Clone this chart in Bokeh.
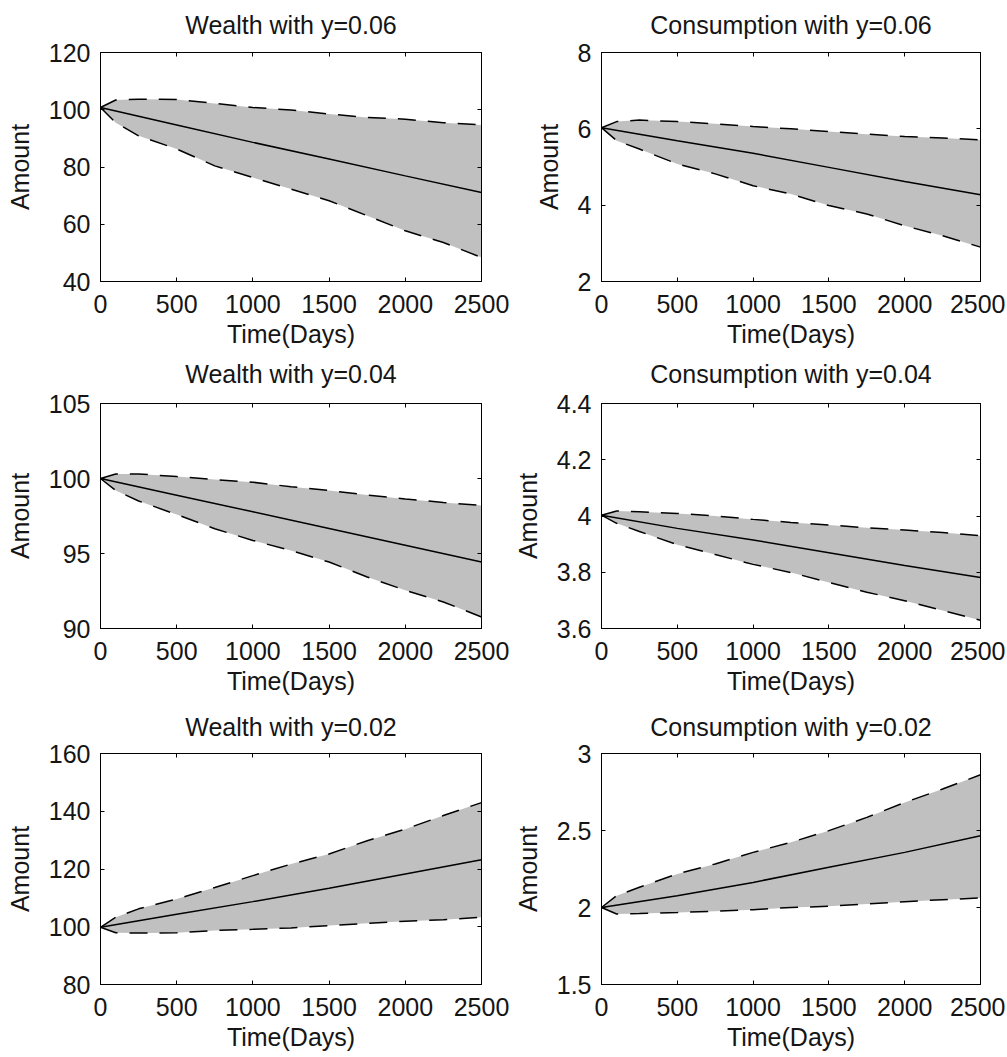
from bokeh.plotting import figure
from bokeh.layouts import column, row
from bokeh.models import Range1d, FixedTicker, LinearAxis
from bokeh.embed import file_html
from bokeh.resources import INLINE

# ---------------- data ----------------
days = [0, 100, 250, 500, 750, 1000, 1250, 1500, 1750, 2000, 2250, 2500]
days_mean = [0, 500, 1000, 1500, 2000, 2500]

x_ticks = [0, 500, 1000, 1500, 2000, 2500]
x_tick_labels = ["0", "500", "1000", "1500", "2000", "2500"]

titles = ["Wealth with y=0.06", "Consumption with y=0.06",
          "Wealth with y=0.04", "Consumption with y=0.04",
          "Wealth with y=0.02", "Consumption with y=0.02"]

w06_upper = [100.8, 103.4, 103.7, 103.6, 102.2, 100.8, 99.9, 98.5, 97.3, 96.7, 95.5, 94.7]
w06_mean = [100.8, 94.7, 88.6, 82.8, 76.9, 71.1]
w06_lower = [100.8, 95.5, 90.9, 86.3, 80.4, 76.3, 72.3, 68.2, 63.0, 57.7, 53.6, 48.4]
w06_ticks = [40, 60, 80, 100, 120]
w06_tick_labels = ["40", "60", "80", "100", "120"]

c06_upper = [6.03, 6.19, 6.23, 6.19, 6.13, 6.06, 6.00, 5.93, 5.86, 5.80, 5.76, 5.71]
c06_mean = [6.03, 5.69, 5.36, 4.99, 4.62, 4.27]
c06_lower = [6.03, 5.69, 5.47, 5.08, 4.82, 4.51, 4.29, 3.99, 3.77, 3.46, 3.20, 2.90]
c06_ticks = [2, 4, 6, 8]
c06_tick_labels = ["2", "4", "6", "8"]

w04_upper = [100.0, 100.3, 100.3, 100.13, 99.93, 99.75, 99.45, 99.2, 98.9, 98.64, 98.4, 98.2]
w04_mean = [100.0, 98.89, 97.78, 96.67, 95.55, 94.43]
w04_lower = [100.0, 99.2, 98.5, 97.6, 96.65, 95.87, 95.2, 94.43, 93.43, 92.55, 91.77, 90.77]
w04_ticks = [90, 95, 100, 105]
w04_tick_labels = ["90", "95", "100", "105"]

c04_upper = [4.003, 4.018, 4.015, 4.009, 4.0, 3.988, 3.977, 3.968, 3.958, 3.95, 3.941, 3.93]
c04_mean = [4.003, 3.956, 3.915, 3.869, 3.824, 3.781]
c04_lower = [4.003, 3.974, 3.945, 3.898, 3.863, 3.828, 3.799, 3.764, 3.729, 3.699, 3.664, 3.629]
c04_ticks = [3.6, 3.8, 4.0, 4.2, 4.4]
c04_tick_labels = ["3.6", "3.8", "4", "4.2", "4.4"]

w02_upper = [99.8, 103.3, 106.2, 109.6, 113.6, 117.7, 121.7, 125.2, 129.8, 133.8, 138.5, 143.0]
w02_mean = [99.8, 104.3, 108.7, 113.3, 118.3, 123.2]
w02_lower = [99.8, 97.9, 97.8, 97.9, 98.7, 99.1, 99.6, 100.4, 101.2, 101.9, 102.4, 103.3]
w02_ticks = [80, 100, 120, 140, 160]
w02_tick_labels = ["80", "100", "120", "140", "160"]

c02_upper = [2.0, 2.077, 2.131, 2.218, 2.283, 2.358, 2.423, 2.499, 2.585, 2.682, 2.769, 2.862]
c02_mean = [2.0, 2.077, 2.163, 2.261, 2.358, 2.466]
c02_lower = [2.0, 1.958, 1.961, 1.967, 1.976, 1.986, 2.0, 2.008, 2.023, 2.038, 2.051, 2.062]
c02_ticks = [1.5, 2.0, 2.5, 3.0]
c02_tick_labels = ["1.5", "2", "2.5", "3"]

FONT = "Liberation Sans"
FS = "25px"
TXT = "#151515"
DASH = "18 12"
LWID = 1.5


def style_axis(ax, ticks, labels):
    ax.ticker = FixedTicker(ticks=ticks)
    ax.major_label_overrides = {t: l for t, l in zip(ticks, labels)}
    ax.major_label_text_font = FONT
    ax.major_label_text_font_size = FS
    ax.major_label_text_color = TXT
    ax.axis_label_text_font = FONT
    ax.axis_label_text_font_size = FS
    ax.axis_label_text_font_style = "normal"
    ax.axis_label_text_color = TXT
    ax.axis_line_color = "black"
    ax.major_tick_line_color = "black"
    ax.major_tick_in = 4
    ax.major_tick_out = 0
    ax.minor_tick_line_color = None


def mirror_axis(ticks, label=None, label_gap=0):
    # unlabelled axis giving inward ticks on the top/right frame edges;
    # on the top edge its axis label carries the panel title
    a = LinearAxis(ticker=FixedTicker(ticks=ticks))
    a.major_label_text_font_size = "0px"
    a.major_label_text_color = None
    a.major_label_standoff = 0
    a.major_tick_in = 4
    a.major_tick_out = 0
    a.minor_tick_line_color = None
    a.axis_line_color = "black"
    a.major_tick_line_color = "black"
    if label is not None:
        a.axis_label = label
        a.axis_label_standoff = label_gap
        a.axis_label_text_font = FONT
        a.axis_label_text_font_size = FS
        a.axis_label_text_font_style = "normal"
        a.axis_label_text_color = TXT
    return a


def make_panel(title, yr, yt, ytl, upper, mean, lower, w, h, bl, br, bt, bb, title_gap):
    p = figure(width=w, height=h, output_backend="svg", toolbar_location=None,
               x_range=Range1d(0, 2500), y_range=Range1d(*yr),
               min_border_left=bl, min_border_right=br,
               min_border_top=bt, min_border_bottom=bb,
               x_axis_label="Time(Days)", y_axis_label="Amount")
    p.grid.visible = False
    p.outline_line_color = "black"
    p.background_fill_color = "white"
    p.border_fill_color = "white"
    p.varea(x=days, y1=lower, y2=upper, fill_color="#c0c0c0")
    p.line(days, upper, line_color="black", line_dash=DASH, line_width=LWID)
    p.line(days, lower, line_color="black", line_dash=DASH, line_width=LWID)
    p.line(days_mean, mean, line_color="black", line_width=LWID)
    style_axis(p.xaxis[0], x_ticks, x_tick_labels)
    style_axis(p.yaxis[0], yt, ytl)
    p.xaxis[0].major_label_standoff = 13
    p.xaxis[0].axis_label_standoff = 4
    p.yaxis[0].major_label_standoff = 10
    p.yaxis[0].axis_label_standoff = 12
    p.add_layout(mirror_axis(x_ticks, title, title_gap), "above")
    p.add_layout(mirror_axis(yt), "right")
    return p


LW, RW = 510, 495
# row geometry: (height, top border, bottom border, gap between frame and title)
R1 = (356, 52, 75, 14)
R2 = (347, 47, 75, 16)
R3 = (354, 50, 73, 13)

p1 = make_panel(titles[0], (40, 120), w06_ticks, w06_tick_labels, w06_upper, w06_mean, w06_lower,
                LW, R1[0], 100, 29, R1[1], R1[2], R1[3])
p2 = make_panel(titles[1], (2, 8), c06_ticks, c06_tick_labels, c06_upper, c06_mean, c06_lower,
                RW, R1[0], 91, 25, R1[1], R1[2], R1[3])
p3 = make_panel(titles[2], (90, 105), w04_ticks, w04_tick_labels, w04_upper, w04_mean, w04_lower,
                LW, R2[0], 100, 29, R2[1], R2[2], R2[3])
p4 = make_panel(titles[3], (3.6, 4.4), c04_ticks, c04_tick_labels, c04_upper, c04_mean, c04_lower,
                RW, R2[0], 91, 25, R2[1], R2[2], R2[3])
p5 = make_panel(titles[4], (80, 160), w02_ticks, w02_tick_labels, w02_upper, w02_mean, w02_lower,
                LW, R3[0], 100, 29, R3[1], R3[2], R3[3])
p6 = make_panel(titles[5], (1.5, 3), c02_ticks, c02_tick_labels, c02_upper, c02_mean, c02_lower,
                RW, R3[0], 91, 25, R3[1], R3[2], R3[3])

layout = column(row(p1, p2), row(p3, p4), row(p5, p6))
open("out.html", "w").write(file_html(layout, INLINE))
